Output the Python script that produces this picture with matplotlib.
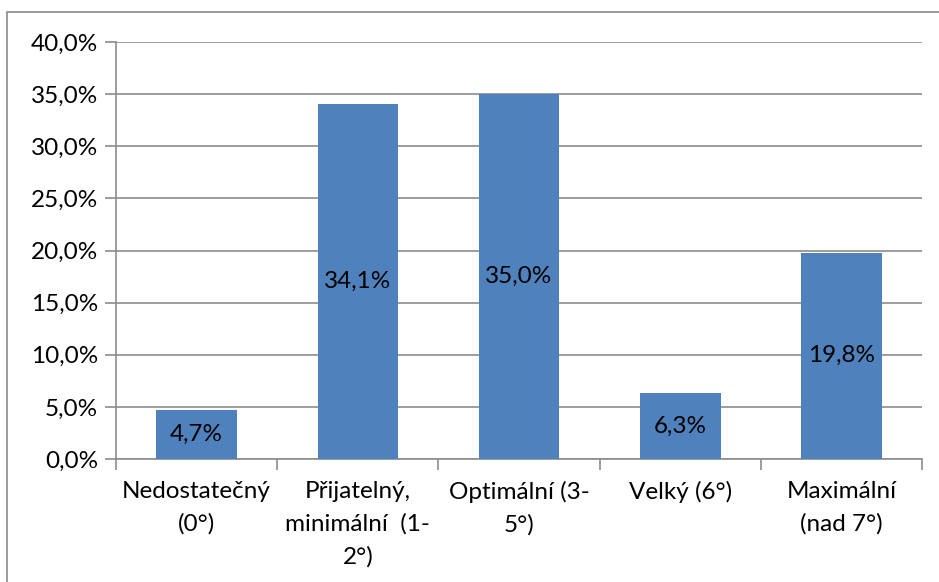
import matplotlib
matplotlib.use("Agg")
import matplotlib.pyplot as plt
from matplotlib.patches import Rectangle
from matplotlib.ticker import FixedLocator, NullFormatter

categories = ["Nedostatečný\n(0°)", "Přijatelný,\nminimální  (1-\n2°)",
              "Optimální (3-\n5°)", "Velký (6°)", "Maximální\n(nad 7°)"]
values = [4.7, 34.1, 35.0, 6.3, 19.8]
yticks = [0, 5, 10, 15, 20, 25, 30, 35, 40]

plt.rcParams['font.family'] = ['Lato', 'DejaVu Sans']
FS = 17.5
GRID = '#8c8c8c'
BAR = '#4f81bd'

fig = plt.figure(figsize=(9.39, 5.82), dpi=100)
fig.patch.set_facecolor('white')

# chart frame
fig.add_artist(Rectangle((7/939, -0.1), 1.2, 1 - 12/582 + 0.1,
                         transform=fig.transFigure, fill=False,
                         edgecolor='#8a8a8a', linewidth=1.2))

ax = fig.add_axes([116/939, (582-459)/582, (922-116)/939, (459-42)/582])
x = list(range(len(values)))
ax.bar(x, values, width=0.5, color=BAR, zorder=3)

ax.set_xlim(-0.5, len(values) - 0.5)
ax.set_ylim(0, 40)
ax.set_yticks(yticks)
ax.set_yticklabels([f"{v:.1f}%".replace('.', ',') for v in yticks], fontsize=FS)
ax.yaxis.grid(True, color=GRID, linewidth=1.2, zorder=0)

ax.xaxis.set_major_locator(FixedLocator([i - 0.5 for i in range(len(values) + 1)]))
ax.xaxis.set_major_formatter(NullFormatter())
for i, c in enumerate(categories):
    ax.text(i, -0.052, c, transform=ax.get_xaxis_transform(), ha='center', va='top',
            fontsize=FS, linespacing=1.65)

for s in ['top', 'right']:
    ax.spines[s].set_visible(False)
for s in ['left', 'bottom']:
    ax.spines[s].set_color(GRID)
    ax.spines[s].set_linewidth(1.2)
ax.tick_params(axis='both', color=GRID, width=1.2, length=8, direction='out')
ax.tick_params(axis='y', pad=5)

for i, v in enumerate(values):
    ax.text(i, v / 2, f"{v:.1f}%".replace('.', ','), ha='center', va='center',
            fontsize=FS, zorder=4)

fig.savefig('out.png', dpi=100)
